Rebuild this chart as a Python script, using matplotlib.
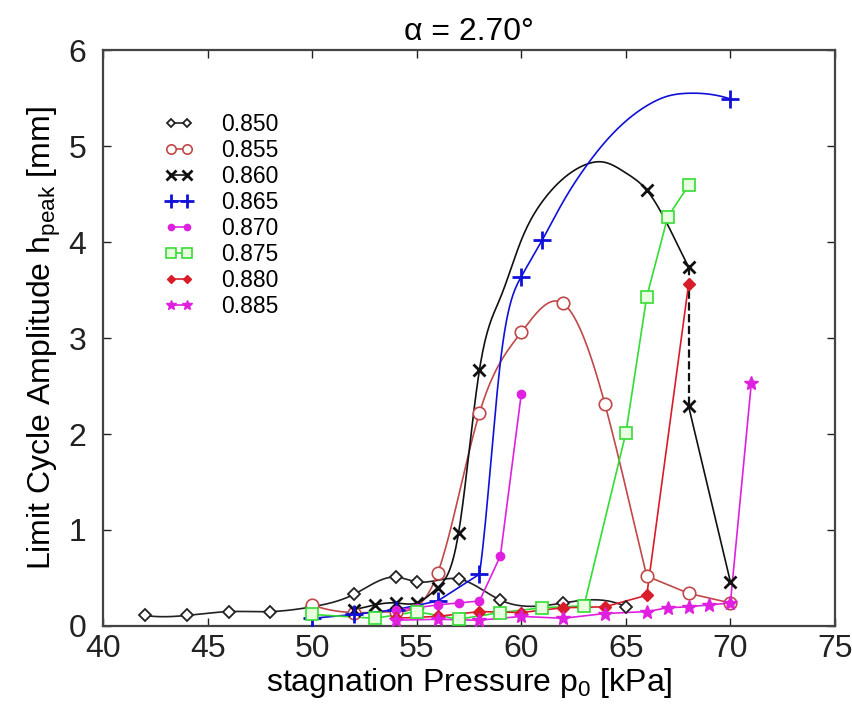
import matplotlib
matplotlib.use('Agg')
import matplotlib.pyplot as plt
from matplotlib.lines import Line2D
import numpy as np

plt.rcParams['font.family'] = ['Liberation Sans', 'DejaVu Sans']
plt.rcParams['mathtext.default'] = 'regular'

# stagnation pressure [kPa] / limit cycle amplitude [mm], one pair per Mach number (markers)
p850 = [42, 44, 46, 48, 50, 52, 54, 55, 57, 59, 62, 65]
h850 = [0.11, 0.11, 0.15, 0.15, 0.20, 0.33, 0.51, 0.46, 0.49, 0.27, 0.24, 0.20]

p855 = [50, 52, 54, 56, 58, 60, 62, 64, 66, 68, 70]
h855 = [0.22, 0.14, 0.15, 0.55, 2.22, 3.06, 3.36, 2.31, 0.52, 0.34, 0.24]

p860 = [52, 53, 54, 55, 56, 57, 58, 66, 68]
h860 = [0.17, 0.22, 0.24, 0.24, 0.40, 0.97, 2.67, 4.54, 3.74]
# lower branch after the jump at 68 kPa
p860b = [68, 70]
h860b = [2.29, 0.46]

p865 = [50, 52, 54, 56, 58, 60, 61, 70]
h865 = [0.08, 0.12, 0.17, 0.26, 0.54, 3.64, 4.02, 5.49]

p870 = [54, 55, 56, 57, 58, 59, 60]
h870 = [0.17, 0.19, 0.22, 0.24, 0.26, 0.73, 2.42]

p875 = [50, 53, 55, 57, 59, 61, 63, 65, 66, 67, 68]
h875 = [0.12, 0.08, 0.15, 0.07, 0.14, 0.19, 0.21, 2.01, 3.43, 4.26, 4.59]

p880 = [54, 56, 58, 60, 62, 64, 66, 68]
h880 = [0.08, 0.10, 0.15, 0.14, 0.19, 0.20, 0.32, 3.56]

p885 = [54, 56, 58, 60, 62, 64, 66, 67, 68, 69, 70, 71]
h885 = [0.06, 0.07, 0.06, 0.10, 0.08, 0.13, 0.15, 0.19, 0.20, 0.22, 0.24, 2.53]

c860x = [52, 53, 54, 55, 56, 57, 58, 59, 60, 61, 62, 63, 64, 65, 66, 67, 68]
c860y = [0.17, 0.22, 0.24, 0.24, 0.40, 0.97, 2.67, 3.42, 4.02, 4.42, 4.66, 4.80, 4.83, 4.72, 4.54, 4.18, 3.74]

c865x = [58, 58.5, 59, 60, 61, 62, 63, 64, 65, 66, 67, 68, 69, 70]
c865y = [0.54, 1.60, 2.75, 3.64, 4.02, 4.42, 4.76, 5.04, 5.26, 5.42, 5.52, 5.55, 5.54, 5.49]

labels = ['0.850', '0.855', '0.860', '0.865', '0.870', '0.875', '0.880', '0.885']


def spline(x, y, n=300):
    # not-a-knot cubic spline (like matlab's spline) for drawing the curve
    x = np.asarray(x, float)
    y = np.asarray(y, float)
    m = len(x)
    h = np.diff(x)
    A = np.zeros((m, m))
    r = np.zeros(m)
    A[0, 0], A[0, 1], A[0, 2] = h[1], -(h[0] + h[1]), h[0]
    A[-1, -3], A[-1, -2], A[-1, -1] = h[-1], -(h[-2] + h[-1]), h[-2]
    for i in range(1, m - 1):
        A[i, i - 1] = h[i - 1]
        A[i, i] = 2 * (h[i - 1] + h[i])
        A[i, i + 1] = h[i]
        r[i] = 6 * ((y[i + 1] - y[i]) / h[i] - (y[i] - y[i - 1]) / h[i - 1])
    M = np.linalg.solve(A, r)
    xs = np.linspace(x[0], x[-1], n)
    k = np.clip(np.searchsorted(x, xs) - 1, 0, m - 2)
    t0 = x[k + 1] - xs
    t1 = xs - x[k]
    hk = h[k]
    ys = (M[k] * t0**3 + M[k + 1] * t1**3) / (6 * hk) \
        + (y[k] / hk - M[k] * hk / 6) * t0 + (y[k + 1] / hk - M[k + 1] * hk / 6) * t1
    return xs, ys


fig = plt.figure(figsize=(8.52, 7.15), dpi=100)
ax = fig.add_axes([0.121, 0.1245, 0.859, 0.8055])

styles = [
    dict(color='#222222', marker='D', ms=6, mfc='white', mew=1.3),
    dict(color='#c04848', marker='o', ms=9, mfc='white', mew=1.2),
    dict(color='#111111', marker='x', ms=9, mfc='none', mew=2.0),
    dict(color='#1010d8', marker='+', ms=13, mfc='none', mew=2.0),
    dict(color='#e020e0', marker='o', ms=6, mfc='#e020e0', mew=1.0),
    dict(color='#33dd33', marker='s', ms=9, mfc='#e8ffe0', mew=1.2),
    dict(color='#d81c2a', marker='D', ms=6, mfc='#d81c2a', mew=1.0),
    dict(color='#e020e0', marker='*', ms=10, mfc='#e020e0', mew=1.0),
]
lw = 1.2


def curve(xs, ys, st, ls='-'):
    ax.plot(xs, ys, ls, color=st['color'], lw=lw, zorder=2)


def marks(px, hy, st):
    ax.plot(px, hy, ls='none', marker=st['marker'], ms=st['ms'], mfc=st['mfc'],
            mec=st['color'], mew=st['mew'], zorder=3)


s850, s855, s860, s865, s870, s875, s880, s885 = styles

curve(*spline(p850, h850), s850)
marks(p850, h850, s850)

curve(*spline(p855[:9], h855[:9]), s855)
curve(p855[8:], h855[8:], s855)
marks(p855, h855, s855)

curve(*spline(c860x, c860y), s860)
ax.plot([p860[-1], p860b[0]], [h860[-1], h860b[0]], '--', color=s860['color'], lw=1.6, zorder=2)
curve(p860b, h860b, s860)
marks(p860, h860, s860)
marks(p860b, h860b, s860)

curve(p865[:5], h865[:5], s865)
curve(*spline(c865x, c865y), s865)
marks(p865, h865, s865)

for px, hy, st in [(p870, h870, s870), (p875, h875, s875), (p880, h880, s880), (p885, h885, s885)]:
    curve(px, hy, st)
    marks(px, hy, st)

handles = [Line2D([0], [0], color=st['color'], lw=lw, marker=st['marker'],
                  ms=st['ms'] * 0.75, mfc=st['mfc'], mec=st['color'], mew=st['mew'])
           for st in styles]
ax.legend(handles, labels, loc='upper left', bbox_to_anchor=(0.084, 0.89), frameon=False,
          numpoints=2, fontsize=16.5, handlelength=1.3, handletextpad=1.15,
          labelspacing=0.13, borderpad=0, borderaxespad=0)

ax.set_xlim(40, 75)
ax.set_ylim(0, 6)
ax.set_xticks(np.arange(40, 76, 5))
ax.set_yticks(np.arange(0, 7, 1))
ax.tick_params(direction='in', top=True, right=True, length=6, width=1,
               labelsize=23, colors='#222222')
ax.tick_params(axis='x', pad=6)
ax.tick_params(axis='y', pad=12)
for s in ax.spines.values():
    s.set_linewidth(1.6)
    s.set_color('#444444')

ax.set_title('α = 2.70°', fontsize=23, pad=7)
ax.set_xlabel('stagnation Pressure p$_0$ [kPa]', fontsize=23, labelpad=1)
ax.set_ylabel('Limit Cycle Amplitude h$_{peak}$ [mm]', fontsize=23, labelpad=4)

fig.savefig('out.png', dpi=100)
